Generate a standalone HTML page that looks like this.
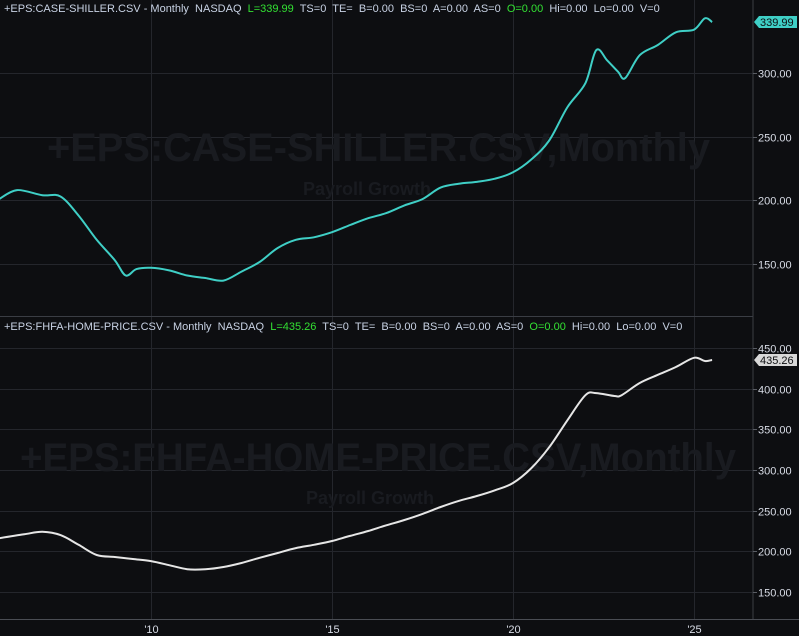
<!DOCTYPE html>
<html><head><meta charset="utf-8"><style>
html,body{margin:0;padding:0;background:#0d0e11;}
svg{display:block;font-family:"Liberation Sans",sans-serif;}
.hdr{white-space:pre;}
</style></head><body>
<svg id="c" width="799" height="636" viewBox="0 0 799 636" xmlns="http://www.w3.org/2000/svg">
<rect x="0" y="0" width="799" height="636" fill="#0d0e11"/>
<g id="grid"></g>
<text x="47" y="161" font-size="40" font-weight="bold" fill="#191b20" textLength="663" lengthAdjust="spacingAndGlyphs">+EPS:CASE-SHILLER.CSV,Monthly</text>
<text x="303" y="195" font-size="18" font-weight="bold" fill="#191b20">Payroll Growth</text>
<text x="20" y="471" font-size="40" font-weight="bold" fill="#191b20" textLength="716" lengthAdjust="spacingAndGlyphs">+EPS:FHFA-HOME-PRICE.CSV,Monthly</text>
<text x="306" y="504" font-size="18" font-weight="bold" fill="#191b20">Payroll Growth</text>
<line x1="753" y1="0" x2="753" y2="619" stroke="#3a3d44" stroke-width="1"/>
<line x1="0" y1="316.5" x2="753" y2="316.5" stroke="#3a3d44" stroke-width="1"/>
<line x1="0" y1="619.5" x2="799" y2="619.5" stroke="#4a4d54" stroke-width="1"/>
<g id="axes"></g>
<path id="topLine" fill="none" stroke="#3fcfc6" stroke-width="2" stroke-linejoin="round"/>
<path id="botLine" fill="none" stroke="#e6e6e6" stroke-width="2" stroke-linejoin="round"/>
<text class="hdr" x="4" y="12" font-size="11" fill="#c8d2e4" xml:space="preserve">+EPS:CASE-SHILLER.CSV - Monthly  NASDAQ  <tspan fill="#33e033">L=339.99</tspan>  TS=0  TE=  B=0.00  BS=0  A=0.00  AS=0  <tspan fill="#33e033">O=0.00</tspan>  Hi=0.00  Lo=0.00  V=0</text>
<text class="hdr" x="4" y="330" font-size="11" fill="#c8d2e4" xml:space="preserve">+EPS:FHFA-HOME-PRICE.CSV - Monthly  NASDAQ  <tspan fill="#33e033">L=435.26</tspan>  TS=0  TE=  B=0.00  BS=0  A=0.00  AS=0  <tspan fill="#33e033">O=0.00</tspan>  Hi=0.00  Lo=0.00  V=0</text>
<g>
<polygon points="754,22 759,16 797,16 797,28 759,28" fill="#3fcfc6"/>
<text x="760" y="26" font-size="11" fill="#0d0e11">339.99</text>
</g>
<g>
<polygon points="754,360 759,354 797,354 797,366 759,366" fill="#d8d8d8"/>
<text x="760" y="364" font-size="11" fill="#0d0e11">435.26</text>
</g>
</svg>
<script>
const caseYears=[2005.8,2006.3,2007,2007.5,2008,2008.5,2009,2009.3,2009.6,2010,2010.5,2011,2011.5,2012,2012.5,2013,2013.5,2014,2014.5,2015,2015.5,2016,2016.5,2017,2017.5,2018,2018.5,2019,2019.5,2020,2020.5,2021,2021.5,2022,2022.3,2022.6,2022.9,2023.1,2023.5,2024,2024.5,2025,2025.3,2025.5];
const caseValues=[201,208,204,203,188,169,153,141,146,147,145,141,139,137,144,151.6,162.6,169,171,175,180.6,186,190,196,201,210,213,214.5,217,222,232,247,273,292,318,310,301,296,314,322,332,334,343,340];
const fhfaYears=[2005.8,2006.5,2007,2007.5,2008,2008.5,2009,2009.5,2010,2010.5,2011,2011.5,2012,2012.5,2013,2013.5,2014,2014.5,2015,2015.5,2016,2016.5,2017,2017.5,2018,2018.5,2019,2019.5,2020,2020.5,2021,2021.5,2022,2022.3,2022.8,2023,2023.5,2024,2024.5,2025,2025.3,2025.5];
const fhfaValues=[216,221,224,220,208,195.5,193,190.6,188,183,178,178,180.7,185.7,192,198,204,208,212.7,219,225,232,238.5,246,254.5,262,268,275,284,302,328,361,392,394.5,391,392,407,417,426.6,438,434,435.3];
const topTicks=[150,200,250,300];
const botTicks=[150,200,250,300,350,400,450];
const yearTicks=[2010,2015,2020,2025];
const yearLabels=["'10","'15","'20","'25"];

const X=y=>151+(y-2010)*36.2;
const YT=v=>264-(v-150)*1.2733;
const YB=v=>592-(v-150)*0.8133;
const NS="http://www.w3.org/2000/svg";
const grid=document.getElementById('grid'), axes=document.getElementById('axes');
function mk(tag,attrs,parent){const e=document.createElementNS(NS,tag);for(const k in attrs)e.setAttribute(k,attrs[k]);parent.appendChild(e);return e;}
yearTicks.forEach((yr,i)=>{
  const x=Math.round(X(yr))+0.5;
  const l=mk('line',{x1:x,y1:0,x2:x,y2:619,stroke:'#24262c','stroke-width':1},grid);
  
  
  const t=mk('text',{x:x,y:633,'font-size':11,fill:'#d8dce6','text-anchor':'middle'},axes);
  t.textContent=yearLabels[i];
  
  
});
function hTicks(ticks,Y,top,bot){
  ticks.forEach(v=>{
    const y=Math.round(Y(v))+0.5;
    if(y<top||y>bot)return;
    const l=mk('line',{x1:0,y1:y,x2:753,y2:y,stroke:'#24262c','stroke-width':1},grid);
    
    
    mk('line',{x1:753,y1:y,x2:757,y2:y,stroke:'#5a5d64','stroke-width':1},axes);
    const t=mk('text',{x:758,y:y+4,'font-size':11,fill:'#d8dce6'},axes);
    t.textContent=v.toFixed(2);
    
    
  });
}
hTicks(topTicks,YT,0,316);
hTicks(botTicks,YB,316,619);
function path(xs,vs,Y){
  const p=xs.map((x,i)=>[X(x),Y(vs[i])]);
  let d='M'+p[0][0].toFixed(1)+','+p[0][1].toFixed(1);
  for(let i=0;i<p.length-1;i++){
    const p0=p[Math.max(i-1,0)],p1=p[i],p2=p[i+1],p3=p[Math.min(i+2,p.length-1)];
    const c1=[p1[0]+(p2[0]-p0[0])/6,p1[1]+(p2[1]-p0[1])/6];
    const c2=[p2[0]-(p3[0]-p1[0])/6,p2[1]-(p3[1]-p1[1])/6];
    d+=' C'+c1.map(v=>v.toFixed(1)).join(',')+' '+c2.map(v=>v.toFixed(1)).join(',')+' '+p2[0].toFixed(1)+','+p2[1].toFixed(1);
  }
  return d;
}
document.getElementById('topLine').setAttribute('d',path(caseYears,caseValues,YT));
document.getElementById('botLine').setAttribute('d',path(fhfaYears,fhfaValues,YB));
</script>
</body></html>
